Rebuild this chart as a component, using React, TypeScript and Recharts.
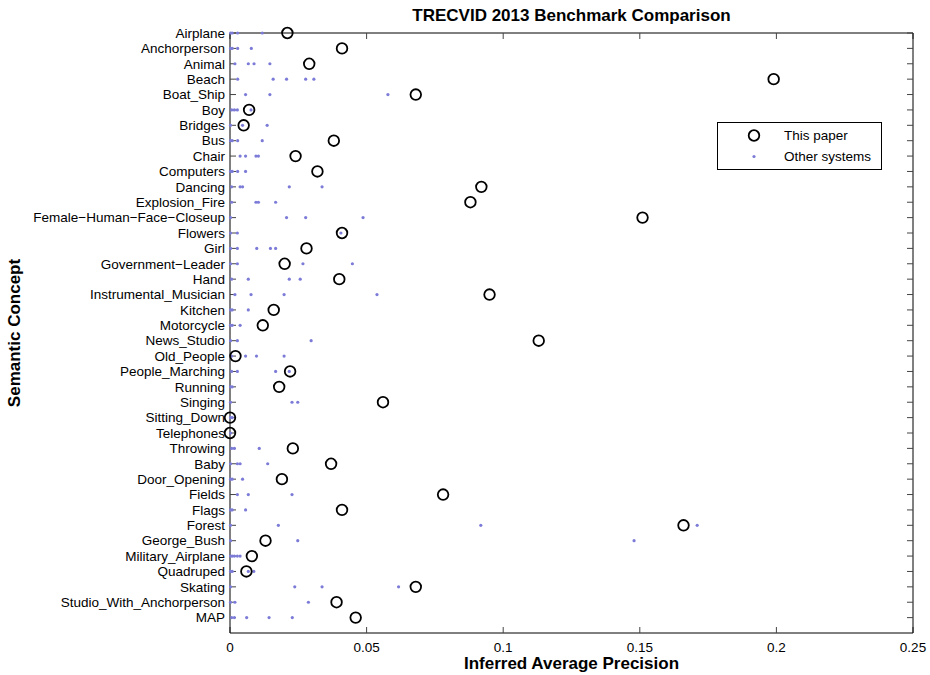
import React from 'react';
import { ScatterChart, Scatter, XAxis, YAxis } from 'recharts';

const categories = [
  'Airplane', 'Anchorperson', 'Animal', 'Beach', 'Boat_Ship', 'Boy', 'Bridges', 'Bus', 'Chair',
  'Computers', 'Dancing', 'Explosion_Fire', 'Female−Human−Face−Closeup', 'Flowers', 'Girl',
  'Government−Leader', 'Hand', 'Instrumental_Musician', 'Kitchen', 'Motorcycle', 'News_Studio',
  'Old_People', 'People_Marching', 'Running', 'Singing', 'Sitting_Down', 'Telephones', 'Throwing',
  'Baby', 'Door_Opening', 'Fields', 'Flags', 'Forest', 'George_Bush', 'Military_Airplane',
  'Quadruped', 'Skating', 'Studio_With_Anchorperson', 'MAP',
];

const thisPaper = [
  0.021, 0.041, 0.029, 0.199, 0.068, 0.007, 0.005, 0.038, 0.024, 0.032,
  0.092, 0.088, 0.151, 0.041, 0.028, 0.020, 0.040, 0.095, 0.016, 0.012,
  0.113, 0.002, 0.022, 0.018, 0.056, 0.0, 0.0, 0.023, 0.037, 0.019,
  0.078, 0.041, 0.166, 0.013, 0.008, 0.006, 0.068, 0.039, 0.046,
];

const otherSystems: number[][] = [
  [0.0002, 0.0008, 0.0028, 0.0118],
  [0.0002, 0.0008, 0.0028, 0.0078],
  [0.0018, 0.0067, 0.0088, 0.0146],
  [0.0028, 0.0158, 0.0207, 0.0277, 0.0307],
  [0.0057, 0.0146, 0.0578],
  [0.0006, 0.0016, 0.0027, 0.0077],
  [0.0002, 0.0046, 0.0136],
  [0.0002, 0.0008, 0.0028, 0.0118],
  [0.0037, 0.0057, 0.0095, 0.0104],
  [0.0002, 0.0008, 0.0028, 0.0057],
  [0.0006, 0.0037, 0.0046, 0.0217, 0.0337],
  [0.0006, 0.0095, 0.0104, 0.0167],
  [0.0002, 0.0207, 0.0277, 0.0487],
  [0.0002, 0.0027, 0.0406],
  [0.0002, 0.0027, 0.0098, 0.0148, 0.0167],
  [0.0002, 0.0027, 0.0267, 0.0448],
  [0.0006, 0.0067, 0.0217, 0.0257],
  [0.0018, 0.0077, 0.0198, 0.0538],
  [0.0002, 0.0008, 0.0067],
  [0.0002, 0.0008, 0.0037],
  [0.0002, 0.0027, 0.0297],
  [0.0006, 0.0057, 0.0097, 0.0198],
  [0.0006, 0.0027, 0.0167, 0.0217],
  [0.0002, 0.0008],
  [0.0002, 0.0227, 0.0248],
  [0.0002, 0.0008],
  [0.0002],
  [0.0006, 0.0016, 0.0107],
  [0.0002, 0.0027, 0.0037, 0.0138],
  [0.0002, 0.0008, 0.0046],
  [0.0027, 0.0067, 0.0227],
  [0.0002, 0.0008, 0.0057],
  [0.0002, 0.0177, 0.0918, 0.171],
  [0.0002, 0.0248, 0.1479],
  [0.0002, 0.0008, 0.0016, 0.0027, 0.0037],
  [0.0002, 0.0008, 0.0067, 0.0087],
  [0.0002, 0.0237, 0.0337, 0.0617],
  [0.0002, 0.0018, 0.0287],
  [0.0006, 0.0016, 0.0061, 0.0143, 0.0228],
];

const xTicks = [0, 0.05, 0.1, 0.15, 0.2, 0.25];
const yTicks = categories.map((_, i) => i + 1);

const paperData = thisPaper.map((v, i) => ({ x: v, y: i + 1 }));
const otherData = otherSystems.flatMap((vals, i) => vals.map((v) => ({ x: v, y: i + 1 })));

const FONT = '"Liberation Sans", Arial, Helvetica, sans-serif';
const DOT_COLOR = '#7c7cd8';

const CircleShape = (props: any) => (
  <circle cx={props.cx} cy={props.cy} r={5.3} fill="none" stroke="#000" strokeWidth={1.8} />
);
const DotShape = (props: any) => (
  <circle cx={props.cx} cy={props.cy} r={1.6} fill={DOT_COLOR} stroke="none" />
);
const NoShape = () => <g />;

const YLabel = (props: any) => {
  const vb = props.viewBox || { x: 0, y: 33, width: 230, height: 600 };
  const x = vb.x + 20;
  const y = vb.y + vb.height / 2;
  return (
    <text x={x} y={y} transform={`rotate(-90 ${x} ${y})`} textAnchor="middle" fontWeight="bold" fontSize={17} fill="#000">
      Semantic Concept
    </text>
  );
};

export default function App() {
  return (
    <div style={{ position: 'absolute', left: 0, top: 0, width: 930, height: 675, background: '#fff', fontFamily: FONT }}>
      <ScatterChart width={930} height={675} margin={{ top: 32, right: 16, bottom: 0, left: 0 }} style={{ fontFamily: FONT }}>
        <XAxis
          xAxisId="bottom"
          dataKey="x"
          type="number"
          domain={[0, 0.25]}
          ticks={xTicks}
          height={42}
          tickSize={-6}
          tickMargin={15}
          tick={{ fontSize: 13.5, fill: '#000' }}
          tickLine={{ stroke: '#444' }}
          axisLine={{ stroke: '#000' }}
          label={{ value: 'Inferred Average Precision', position: 'insideBottom', offset: 6, fontWeight: 'bold', fontSize: 17, fill: '#000' }}
        />
        <XAxis
          xAxisId="top"
          dataKey="x"
          orientation="top"
          type="number"
          domain={[0, 0.25]}
          ticks={xTicks}
          height={1}
          tickSize={-6}
          tickFormatter={() => ''}
          tickLine={{ stroke: '#444' }}
          axisLine={{ stroke: '#000' }}
          label={{ value: 'TRECVID 2013 Benchmark Comparison', position: 'top', offset: 11, fontWeight: 'bold', fontSize: 17, fill: '#000' }}
        />
        <YAxis
          yAxisId="left"
          dataKey="y"
          type="number"
          domain={[1, 40]}
          reversed
          ticks={yTicks}
          interval={0}
          width={230}
          tickSize={-6}
          tickMargin={11}
          tick={{ fontSize: 13.5, fill: '#000' }}
          tickFormatter={(v: number) => categories[v - 1] ?? ''}
          tickLine={{ stroke: '#444' }}
          axisLine={{ stroke: '#000' }}
          label={<YLabel />}
        />
        <YAxis
          yAxisId="right"
          dataKey="y"
          orientation="right"
          type="number"
          domain={[1, 40]}
          reversed
          ticks={yTicks}
          interval={0}
          width={1}
          tickSize={-6}
          tickFormatter={() => ''}
          tickLine={{ stroke: '#444' }}
          axisLine={{ stroke: '#000' }}
        />
        <Scatter
          name="frame"
          data={paperData}
          xAxisId="top"
          yAxisId="right"
          shape={NoShape}
          legendType="none"
          isAnimationActive={false}
        />
        <Scatter
          name="Other systems"
          data={otherData}
          xAxisId="bottom"
          yAxisId="left"
          shape={DotShape}
          isAnimationActive={false}
        />
        <Scatter
          name="This paper"
          data={paperData}
          xAxisId="bottom"
          yAxisId="left"
          shape={CircleShape}
          isAnimationActive={false}
        />
      </ScatterChart>
      <div
        style={{
          position: 'absolute', left: 717, top: 122, width: 163, height: 46,
          border: '1px solid #000', background: '#fff', fontSize: 13.5, color: '#000',
        }}
      >
        <div style={{ position: 'absolute', left: 0, top: 3, height: 19, width: '100%', display: 'flex', alignItems: 'center' }}>
          <svg width={66} height={19} style={{ flex: 'none' }}>
            <circle cx={36} cy={9.5} r={5.3} fill="none" stroke="#000" strokeWidth={1.8} />
          </svg>
          <span>This paper</span>
        </div>
        <div style={{ position: 'absolute', left: 0, top: 24, height: 19, width: '100%', display: 'flex', alignItems: 'center' }}>
          <svg width={66} height={19} style={{ flex: 'none' }}>
            <circle cx={36} cy={9.5} r={1.6} fill={DOT_COLOR} />
          </svg>
          <span>Other systems</span>
        </div>
      </div>
    </div>
  );
}
